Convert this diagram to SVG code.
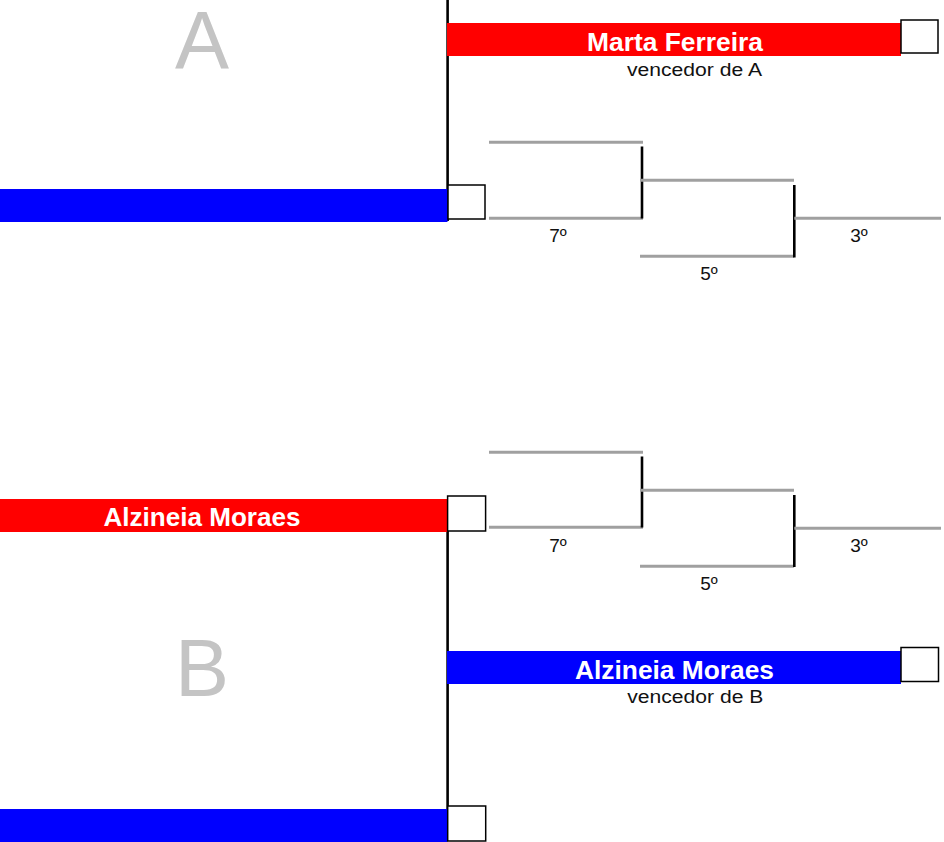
<svg xmlns="http://www.w3.org/2000/svg" width="944" height="842" viewBox="0 0 944 842">
<style>
.red{fill:#ff0000}
.blue{fill:#0000ff}
.box{fill:#ffffff;stroke:#000000;stroke-width:1.5}
.name{font-family:"Liberation Sans",Arial,sans-serif;font-weight:bold;font-size:25px;fill:#ffffff;text-anchor:middle}
.sub{font-family:"Liberation Sans",Arial,sans-serif;font-size:17.5px;fill:#111111;text-anchor:middle}
.lbl{font-family:"Liberation Sans",Arial,sans-serif;font-size:19px;fill:#111111;text-anchor:middle}
.big{font-family:"Liberation Sans",Arial,sans-serif;font-size:81px;fill:#c4c4c4;text-anchor:middle}
.g{stroke:#a0a0a0;stroke-width:3;fill:none}
.k{stroke:#000000;stroke-width:2.6;fill:none}
</style>
<rect width="944" height="842" fill="#ffffff"/>
<g id="connectors">
  <line class="k" x1="447.6" y1="0" x2="447.6" y2="221"/>
  <line class="k" x1="447.6" y1="531" x2="447.6" y2="809"/>
  <line class="g" x1="489" y1="142.3" x2="643" y2="142.3"/>
  <line class="g" x1="489" y1="218.3" x2="643" y2="218.3"/>
  <line class="k" x1="642" y1="146.5" x2="642" y2="218.5"/>
  <line class="g" x1="640" y1="180.3" x2="794" y2="180.3"/>
  <line class="g" x1="640" y1="256.3" x2="794" y2="256.3"/>
  <line class="k" x1="794.3" y1="185" x2="794.3" y2="257.5"/>
  <line class="g" x1="794.3" y1="218.3" x2="941" y2="218.3"/>
  <line class="g" x1="489" y1="452.3" x2="643" y2="452.3"/>
  <line class="g" x1="489" y1="527.3" x2="643" y2="527.3"/>
  <line class="k" x1="642" y1="456.5" x2="642" y2="527.5"/>
  <line class="g" x1="640" y1="490.3" x2="794" y2="490.3"/>
  <line class="g" x1="640" y1="566.3" x2="794" y2="566.3"/>
  <line class="k" x1="794.3" y1="495" x2="794.3" y2="567"/>
  <line class="g" x1="794.3" y1="528.3" x2="941" y2="528.3"/>
</g>
<g id="labelA"><text class="big" x="202" y="68">A</text></g>
<g id="labelB"><text class="big" x="202" y="696">B</text></g>
<g id="winnerA">
  <rect class="red" x="447" y="23" width="454" height="33"/>
  <rect class="box" x="901" y="20" width="37" height="33"/>
  <text class="name" x="675" y="51" textLength="176" lengthAdjust="spacingAndGlyphs">Marta Ferreira</text>
  <text class="sub" x="694.5" y="75.5" textLength="135" lengthAdjust="spacingAndGlyphs">vencedor de A</text>
</g>
<g id="playerA2">
  <rect class="blue" x="0" y="189" width="447.5" height="33"/>
  <rect class="box" x="448" y="185" width="37" height="34"/>
</g>
<g id="playerB1">
  <rect class="red" x="0" y="499" width="447.5" height="33"/>
  <rect class="box" x="447.6" y="496" width="38" height="35"/>
  <text class="name" x="202" y="526" textLength="197" lengthAdjust="spacingAndGlyphs">Alzineia Moraes</text>
</g>
<g id="winnerB">
  <rect class="blue" x="447" y="651" width="454" height="33"/>
  <rect class="box" x="901" y="647.5" width="37.5" height="34"/>
  <text class="name" x="674.5" y="679" textLength="199" lengthAdjust="spacingAndGlyphs">Alzineia Moraes</text>
  <text class="sub" x="695.3" y="703.3" textLength="136" lengthAdjust="spacingAndGlyphs">vencedor de B</text>
</g>
<g id="playerB2">
  <rect class="blue" x="0" y="809" width="447.5" height="33"/>
  <rect class="box" x="447.7" y="806" width="38" height="35"/>
</g>
<g id="places">
  <text class="lbl" x="558" y="242">7º</text>
  <text class="lbl" x="709" y="280">5º</text>
  <text class="lbl" x="859" y="242">3º</text>
  <text class="lbl" x="558" y="552">7º</text>
  <text class="lbl" x="709" y="590">5º</text>
  <text class="lbl" x="859" y="552">3º</text>
</g>
</svg>
